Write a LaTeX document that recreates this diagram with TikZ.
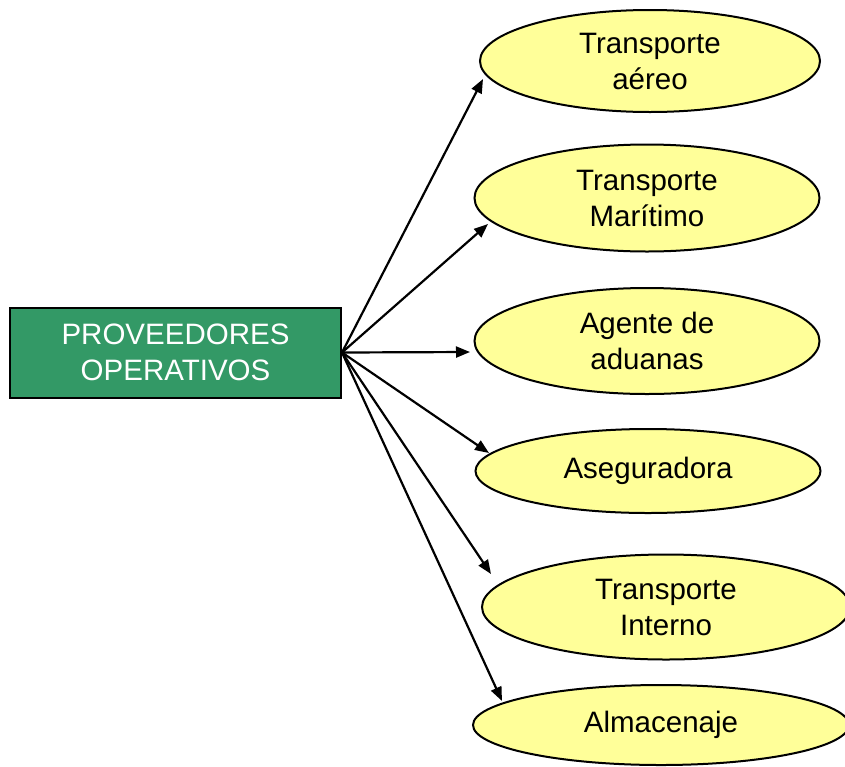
\documentclass[tikz,border=0pt]{standalone}
\usepackage{fontspec}
\setmainfont{Liberation Sans}
\usetikzlibrary{shapes.geometric,arrows.meta}
\definecolor{boxgreen}{HTML}{339966}
\definecolor{ellyellow}{HTML}{FFFF99}
\begin{document}
\begin{tikzpicture}[x=1pt,y=-1pt,
  every node/.style={font=\fontsize{29.5}{36}\selectfont},
  provbox/.style={draw=black,line width=2pt,fill=boxgreen,text=white,minimum width=331pt,minimum height=90pt,inner sep=0pt,align=center},
  oval/.style={ellipse,draw=black,line width=2pt,fill=ellyellow,inner sep=0pt,align=center},
  conn/.style={line width=2.2pt,-{Triangle[length=14pt,width=11pt]}}]
\useasboundingbox (0,0) rectangle (845,766);
\node[provbox] (prov) at (175.5,352.5) {PROVEEDORES\\OPERATIVOS};
\node[oval,minimum width=340pt,minimum height=102pt] (e1) at (650,61) {Transporte\\aéreo};
\node[oval,minimum width=345pt,minimum height=107pt] (e2) at (647,198) {Transporte\\Marítimo};
\node[oval,minimum width=345pt,minimum height=106pt] (e3) at (647,341) {Agente de\\aduanas};
\node[oval,minimum width=345pt,minimum height=84pt] (e4) at (648,471) {Aseguradora};
\node[oval,minimum width=368pt,minimum height=105pt] (e5) at (666,607) {Transporte\\Interno};
\node[oval,minimum width=376pt,minimum height=80pt] (e6) at (661,725) {Almacenaje};
\coordinate (t1) at (483,79);
\coordinate (t2) at (488,224);
\coordinate (t3) at (470,352);
\coordinate (t4) at (489,453);
\coordinate (t5) at (491,574);
\coordinate (t6) at (502,701);
\coordinate (src) at (prov.east);
\foreach \t in {t1,t2,t3,t4,t5,t6} \draw[conn] (src) -- (\t);
\end{tikzpicture}
\end{document}
